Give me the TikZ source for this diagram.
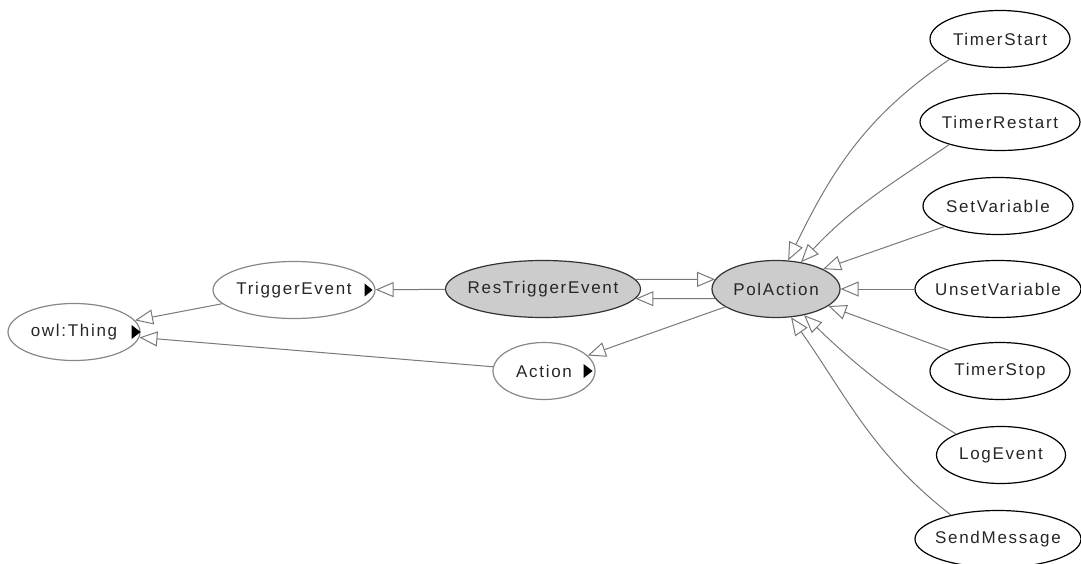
\documentclass[tikz,border=0pt]{standalone}
\usepackage{fontspec}
\setmainfont{Liberation Sans}[LetterSpace=10]
\usepackage{tikz}
\usetikzlibrary{positioning, arrows.meta, shapes.geometric, calc}
\definecolor{selfill}{RGB}{204,204,204}
\definecolor{edgegray}{RGB}{120,120,120}
\definecolor{outgray}{RGB}{135,135,135}
\newcommand{\cname}[1]{\makebox[0pt]{#1}}

\begin{document}
\begin{tikzpicture}[
    x=1pt, y=1pt,
    cls/.style={draw, ellipse, inner sep=0pt, minimum height=57pt, line width=1.2pt, text=black!85, font=\fontsize{17}{19}\selectfont},
    sel/.style={cls, fill=selfill, draw=black!80},
    leaf/.style={cls, draw=black},
    base/.style={cls, draw=outgray},
    isa/.style={draw=edgegray, line width=1pt, -{Triangle[length=18pt, width=15pt, fill=white]}}
]
    \useasboundingbox (0,0) rectangle (1081,-564);

    % Classes on the left
    \node[base, minimum width=132pt] (owlThing) at (74,-332) {\cname{owl:Thing}};
    \node[base, minimum width=162pt] (TriggerEvent) at (294,-290) {\cname{TriggerEvent}};
    \node[base, minimum width=102pt] (Action) at (544,-371) {\cname{Action}};

    % Selected classes
    \node[sel, minimum width=195pt] (ResTriggerEvent) at (543,-289) {\cname{ResTriggerEvent}};
    \node[sel, minimum width=128pt] (PolAction) at (776,-289) {\cname{PolAction}};

    % Subclasses of PolAction
    \node[leaf, minimum width=140pt] (TimerStart) at (1000,-39) {\cname{TimerStart}};
    \node[leaf, minimum width=160pt] (TimerRestart) at (1000,-122) {\cname{TimerRestart}};
    \node[leaf, minimum width=150pt] (SetVariable) at (998,-206) {\cname{SetVariable}};
    \node[leaf, minimum width=166pt] (UnsetVariable) at (998,-289) {\cname{UnsetVariable}};
    \node[leaf, minimum width=140pt] (TimerStop) at (1000,-371) {\cname{TimerStop}};
    \node[leaf, minimum width=129pt] (LogEvent) at (1001,-455) {\cname{LogEvent}};
    \node[leaf, minimum width=166pt] (SendMessage) at (998,-539) {\cname{SendMessage}};

    % Markers for hidden subclasses
    \fill ([xshift=-11pt]TriggerEvent.east) -- ++(0,6.5pt) -- ++(8pt,-6.5pt) -- ++(-8pt,-6.5pt) -- cycle;
    \fill ([xshift=-9pt]owlThing.east) -- ++(0,7pt) -- ++(9pt,-7pt) -- ++(-9pt,-7pt) -- cycle;
    \fill ([xshift=-12pt]Action.east) -- ++(0,7pt) -- ++(9pt,-7pt) -- ++(-9pt,-7pt) -- cycle;

    % Edges
    \draw[isa] (TriggerEvent) -- (owlThing);
    \draw[isa] (Action) -- (owlThing);
    \draw[isa] (ResTriggerEvent) -- (TriggerEvent);
    \draw[isa] (PolAction) -- (Action);
    \draw[isa] (ResTriggerEvent.6) -- (PolAction.171);
    \draw[isa] (PolAction.189) -- (ResTriggerEvent.-6);

    \draw[isa] (TimerStart.202) to[out=214, in=64] (PolAction.67);
    \draw[isa] (TimerRestart.204) to[out=214, in=47] (PolAction.47);
    \draw[isa] (SetVariable.201) -- (PolAction.23);
    \draw[isa] (UnsetVariable) -- (PolAction);
    \draw[isa] (TimerStop.158) -- (PolAction.-18);
    \draw[isa] (LogEvent.155) to[out=148, in=316] (PolAction.-43);
    \draw[isa] (SendMessage.153) to[out=142, in=305] (PolAction.-62);
\end{tikzpicture}
\end{document}
